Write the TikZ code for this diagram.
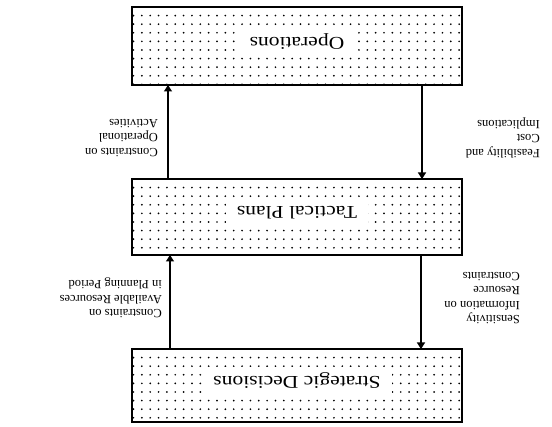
\documentclass[tikz,border=0pt]{standalone}
\usepackage{fontspec}
\setmainfont{Liberation Serif}
\newfontfamily\boxfont[FakeStretch=1.2]{Liberation Serif}
\usetikzlibrary{arrows.meta}

\tikzset{
  panel/.style={draw, line width=2pt, minimum width=330pt, inner sep=0pt, outer sep=0pt},
  flow/.style={line width=1.4pt, -{Triangle[length=6.5pt,width=8pt]}},
  note/.style={rotate=180, align=left, inner sep=0pt, anchor=west,
    font=\fontsize{12.5}{14.5}\selectfont},
  title/.style={rotate=180, fill=white, inner xsep=11pt, inner ysep=6pt,
    font=\boxfont\fontsize{18}{20}\selectfont},
}

% dotted screen inside a box: #1..#4 = left, top, right, bottom
\newcommand\stipple[4]{%
  \begin{scope}
    \clip (#1,#2) rectangle (#3,#4);
    \foreach \i in {0,...,40}{
      \foreach \j in {0,...,10}{
        \fill ({#1+1.5+8.35*\i},{#2+8.6*\j}) circle (0.95);
      }
    }
  \end{scope}}

\begin{document}
\begin{tikzpicture}[x=1pt,y=-1pt]
  \useasboundingbox (0,0) rectangle (552,427);

  % the three planning levels (drawn upside down)
  \stipple{132}{7}{462}{85}
  \stipple{132}{179}{462}{255}
  \stipple{132}{349}{462}{422}

  \node[panel, minimum height=78pt] (ops) at (297,46) {};
  \node[panel, minimum height=76pt] (tac) at (297,217) {};
  \node[panel, minimum height=73pt] (str) at (297,385.5) {};

  \node[title] (opsT) at (297,42) {Operations};
  \node[title] (tacT) at (297,213) {Tactical Plans};
  \node[title] (strT) at (297,381) {Strategic Decisions};

  % columns for the connectors
  \coordinate (ul) at (168,0);
  \coordinate (ur) at (422,0);
  \coordinate (ll) at (170,0);
  \coordinate (lr) at (421,0);

  \draw[flow] (tac.north -| ul) -- (ops.south -| ul);
  \draw[flow] (ops.south -| ur) -- (tac.north -| ur);
  \draw[flow] (str.north -| ll) -- (tac.south -| ll);
  \draw[flow] (tac.south -| lr) -- (str.north -| lr);

  % connector labels
  \node[note] (n1) at (158,138) {Constraints on\\Operational\\Activities};
  \node[note] (n2) at (540,138) {Feasibility and\\Cost\\Implications};
  \node[note] (n3) at (162,298) {Constraints on\\Available Resources\\in Planning Period};
  \node[note] (n4) at (520,298) {Sensitivity\\Information on\\Resource\\Constraints};
\end{tikzpicture}
\end{document}
